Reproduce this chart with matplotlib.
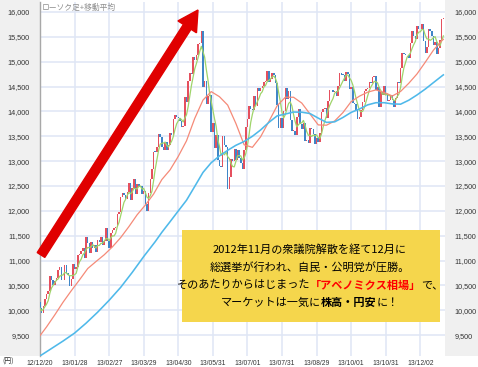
import matplotlib
matplotlib.use("Agg")
import matplotlib.pyplot as plt
import numpy as np
import pandas as pd
from matplotlib.patches import Rectangle, FancyArrow
from matplotlib.transforms import IdentityTransform

# ---------------- data ----------------
x_labels = ["12/12/20", "13/01/28", "13/02/27", "13/03/29", "13/04/30", "13/05/31",
            "13/07/01", "13/07/31", "13/08/29", "13/10/01", "13/10/31", "13/12/02"]
label_step = 21
y_ticks = [9500, 10000, 10500, 11000, 11500, 12000, 12500, 13000, 13500,
           14000, 14500, 15000, 15500, 16000]

first_open = 10160
closes = [
    10039, 9940, 10080, 10230, 10323, 10395, 10688, 10599, 10508, 10579,
    10653, 10802, 10879, 10600, 10610, 10913, 10748, 10710, 10487, 10620,
    10927, 10824, 10867, 11114, 11139, 11191, 11260, 11047, 11464, 11357,
    11153, 11369, 11251, 11307, 11174, 11408, 11372, 11468, 11309, 11386,
    11663, 11399, 11254, 11559, 11606, 11652, 11683, 11932, 11968, 12284,
    12349, 12315, 12240, 12381, 12561, 12221, 12468, 12636, 12339, 12546,
    12472, 12494, 12336, 12398, 12135, 12003, 12362, 12635, 12834, 13193,
    13192, 13288, 13549, 13485, 13276, 13221, 13383, 13220, 13316, 13568,
    13530, 13843, 13926, 13884, 13861, 13799, 13694, 13700, 14286, 14191,
    14608, 14782, 14758, 15096, 15037, 15138, 15361, 15381, 15627, 14484,
    14612, 14143, 14312, 14326, 13589, 13775, 13262, 13534, 13015, 12904,
    12878, 13514, 13318, 13289, 12445, 12687, 13033, 13007, 13245, 13015,
    13230, 13063, 12969, 12834, 13214, 13677, 13852, 14099, 14055, 14019,
    14310, 14109, 14473, 14417, 14473, 14506, 14599, 14615, 14808, 14590,
    14658, 14779, 14731, 14563, 14130, 13661, 13870, 13668, 14006, 14466,
    14258, 14401, 13825, 13606, 13615, 13519, 13879, 14050, 13753, 13650,
    13758, 13396, 13424, 13365, 13661, 13636, 13542, 13338, 13459, 13389,
    13573, 13978, 14054, 14065, 13861, 14205, 14423, 14425, 14387, 14405,
    14312, 14505, 14766, 14742, 14733, 14621, 14799, 14760, 14456, 14485,
    14170, 14157, 14024, 13853, 13895, 14038, 14195, 14405, 14441, 14467,
    14587, 14562, 14694, 14713, 14426, 14486, 14088, 14396, 14325, 14502,
    14328, 14202, 14225, 14337, 14228, 14087, 14270, 14589, 14567, 14876,
    15166, 15164, 15127, 15126, 15076, 15382, 15619, 15515, 15450, 15727,
    15662, 15655, 15750, 15408, 15177, 15300, 15650, 15611, 15515, 15342,
    15403, 15153, 15278, 15434, 15859, 15870,
]

ma25_idx = [0, 4, 9, 14, 19, 24, 29, 34, 39, 44, 49, 54, 59, 64, 69, 74, 79, 84, 89,
            94, 99, 104, 109, 114, 119, 124, 129, 134, 139, 144, 149, 154, 159, 164,
            169, 174, 179, 184, 189, 194, 199, 204, 209, 214, 219, 224, 229, 234,
            239, 244, 245]
ma25_val = [9488, 9665, 9907, 10161, 10392, 10611, 10839, 10979, 11115, 11275, 11461,
            11682, 11920, 12116, 12337, 12628, 12823, 13096, 13409, 13860, 14228,
            14398, 14296, 14127, 13756, 13328, 13277, 13489, 13796, 14111, 14285,
            14285, 14168, 13948, 13728, 13722, 13808, 13976, 14197, 14306, 14387,
            14432, 14382, 14310, 14401, 14566, 14754, 14989, 15233, 15422, 15450]

ma75_idx = [0, 7, 14, 21, 28, 35, 42, 49, 56, 63, 70, 74, 79, 84, 89, 94, 99, 104,
            109, 114, 119, 124, 129, 134, 139, 144, 149, 154, 159, 164, 169, 174,
            179, 184, 189, 194, 199, 204, 209, 214, 219, 224, 229, 234, 239, 244, 245]
ma75_val = [9080, 9230, 9380, 9540, 9740, 9960, 10200, 10460, 10760, 11080, 11380,
            11567, 11781, 11998, 12213, 12491, 12772, 12968, 13104, 13217, 13318,
            13395, 13499, 13627, 13778, 13909, 13947, 13987, 13984, 13957, 13865,
            13779, 13790, 13878, 13980, 14048, 14131, 14175, 14175, 14151, 14145,
            14225, 14331, 14449, 14580, 14710, 14735]

title_text = "ローソク足+移動平均"
box_lines = [
    [("2012年11月の衆議院解散を経て12月に", "black", "normal")],
    [("総選挙が行われ、自民・公明党が圧勝。", "black", "normal")],
    [("そのあたりからはじまった", "black", "normal"),
     ("「アベノミクス相場」", "#ff0000", "bold"),
     ("で、", "black", "normal")],
    [("マーケットは一気に", "black", "normal"),
     ("株高・円安", "black", "bold"),
     ("に！", "black", "normal")],
]

# ---------------- figure ----------------
W, H = 478, 367
fig = plt.figure(figsize=(W / 100, H / 100), dpi=100)
fig.patch.set_facecolor("white")
cjk = ["Noto Sans CJK JP", "DejaVu Sans"]
num_font = "Liberation Sans"

def px(x, y):
    return x / W, 1 - y / H

ax_left, ax_right, ax_top, ax_bot = 39.5, 445, 2, 356
ax = fig.add_axes([ax_left / W, 1 - ax_bot / H, (ax_right - ax_left) / W, (ax_bot - ax_top) / H])
ax.set_zorder(1)

# side panels (behind the axes)
panel_col = "#f0f0f0"
fig.patches.append(Rectangle((0, 1 - ax_bot / H), ax_left / W, ax_bot / H,
                             transform=fig.transFigure, facecolor=panel_col, edgecolor="none", zorder=-2))
fig.patches.append(Rectangle((ax_right / W, 1 - ax_bot / H), 1 - ax_right / W, ax_bot / H,
                             transform=fig.transFigure, facecolor=panel_col, edgecolor="none", zorder=-2))

n = len(closes)
idx = np.arange(n)
c = np.array(closes, dtype=float)
o = np.concatenate([[first_open], c[:-1]])
up = c >= o
lo = np.minimum(o, c)
hgt = np.maximum(np.abs(c - o), 10)

ax.bar(idx[up], hgt[up], bottom=lo[up], width=0.9, color="#e5505e", edgecolor="none", zorder=3)
ax.bar(idx[~up], hgt[~up], bottom=lo[~up], width=0.9, color="#3f86c8", edgecolor="none", zorder=3)

ma5 = pd.Series(c).rolling(5, min_periods=1).mean()
ax.plot(idx, ma5, color="#9fd46a", lw=0.9, zorder=4)
ax.plot(ma25_idx, ma25_val, color="#f58a78", lw=0.9, zorder=4)
ax.plot(ma75_idx, ma75_val, color="#4fb9ea", lw=1.15, zorder=4)

ax.set_xlim(-0.3, 246.0)
ax.set_ylim(9079, 16201)
xt = [i * label_step for i in range(len(x_labels))]
ax.set_xticks(xt)
ax.set_xticklabels(x_labels, fontsize=4.9, fontfamily=num_font, color="#333333")
ax.set_yticks(y_ticks)
ylabs = [f"{v:,}" for v in y_ticks]
ax.set_yticklabels(ylabs, fontsize=5.2, fontfamily=num_font, color="#333333")
ax.tick_params(axis="x", length=0, pad=3)
ax.tick_params(axis="y", length=0, pad=7, labelleft=True, labelright=True)
ax.grid(True, color="#dfe6f5", lw=1.1, zorder=1)
ax.set_axisbelow(True)
for s in ["top", "right", "bottom"]:
    ax.spines[s].set_visible(False)
ax.spines["left"].set_color("#a8a8a8")
ax.spines["left"].set_linewidth(1.0)
ax.set_facecolor("white")

# title inside plot
fig.text(*px(42, 7.5), title_text, fontsize=5.6, color="#8c8c8c", family=cjk, va="center", ha="left", zorder=5)
# yen unit
fig.text(*px(2, 362), "(円)", fontsize=5, color="#333333", family=cjk, va="center", ha="left")

# arrow (display pixel coords)
tail = (41, H - 255)
tip = (198, H - 10)
dx, dy = tip[0] - tail[0], tip[1] - tail[1]
arr = FancyArrow(tail[0], tail[1], dx, dy, width=9, head_width=22, head_length=20,
                 length_includes_head=True, color="#e00000", transform=IdentityTransform(), zorder=10)
fig.patches.append(arr)

# yellow box
bx0, by0, bx1, by1 = 182, 230, 440, 322
fig.patches.append(Rectangle(px(bx0, by1), (bx1 - bx0) / W, (by1 - by0) / H,
                             transform=fig.transFigure, facecolor="#f5d64c", edgecolor="none", zorder=11))

fig.canvas.draw()
renderer = fig.canvas.get_renderer()
line_y = [250, 267.5, 285, 302.5]
cx = 310
fs = 8.0
for ln, yy in zip(box_lines, line_y):
    texts = []
    for s, col, wt in ln:
        t = fig.text(0, 1 - yy / H, s, fontsize=fs, color=col, fontweight=wt, family=cjk,
                     va="center", ha="left", zorder=12)
        texts.append(t)
    widths = [t.get_window_extent(renderer).width for t in texts]
    total = sum(widths)
    x = cx - total / 2
    for t, w in zip(texts, widths):
        t.set_x(x / W)
        x += w

fig.savefig("out.png", dpi=100, facecolor="white")
